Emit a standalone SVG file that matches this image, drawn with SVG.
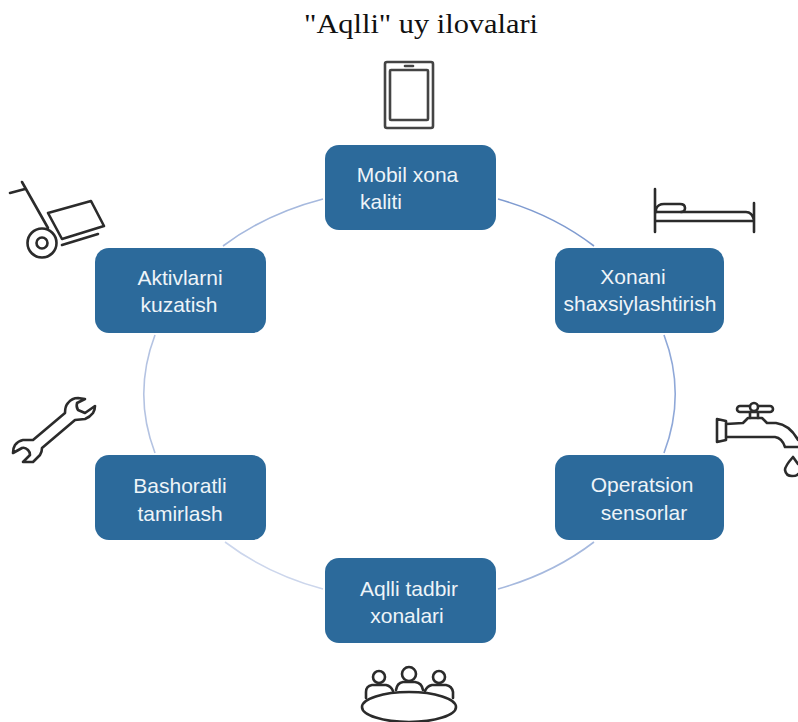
<svg xmlns="http://www.w3.org/2000/svg" width="798" height="722" viewBox="0 0 798 722">
<style>
.n{fill:#2c6a9b;stroke:none}
.t{font-family:"Liberation Sans",Arial,sans-serif;font-size:21px;fill:#eef4f8;text-anchor:middle}
.c{fill:none;stroke-width:1.6}
.i{fill:none;stroke:#2b2b2b;stroke-width:2.6;stroke-linecap:round;stroke-linejoin:round}
.title{font-family:"Liberation Serif","Times New Roman",serif;font-size:27px;fill:#111;text-anchor:middle}
</style>
<rect width="798" height="722" fill="#fff"/>
<text class="title" x="421" y="33" textLength="234" lengthAdjust="spacingAndGlyphs">"Aqlli" uy ilovalari</text>
<g id="connectors">
<path class="c" stroke="#7f9bd0" d="M498 199A265 207 0 0 1 594 246"/>
<path class="c" stroke="#8fa8d8" d="M664 335A265 207 0 0 1 664 453"/>
<path class="c" stroke="#a6b9de" d="M594 542A265 207 0 0 1 498 589"/>
<path class="c" stroke="#ccd6ec" d="M323 589A265 207 0 0 1 225 542"/>
<path class="c" stroke="#b4c3e2" d="M155 453A265 207 0 0 1 155 335"/>
<path class="c" stroke="#a6b9de" d="M223 246A265 207 0 0 1 323 199"/>
</g>
<g id="node-mobil"><rect class="n" x="325" y="145" width="171" height="85" rx="14"/><text class="t" x="407.500" y="182">Mobil xona</text><text class="t" x="381" y="209">kaliti</text></g>
<g id="node-xonani"><rect class="n" x="555" y="248" width="169" height="85" rx="14"/><text class="t" x="633" y="284">Xonani</text><text class="t" x="640" y="311">shaxsiylashtirish</text></g>
<g id="node-operatsion"><rect class="n" x="555" y="455" width="169" height="85" rx="14"/><text class="t" x="642" y="492">Operatsion</text><text class="t" x="644" y="520">sensorlar</text></g>
<g id="node-aqlli"><rect class="n" x="325" y="558" width="171" height="85" rx="14"/><text class="t" x="409" y="596">Aqlli tadbir</text><text class="t" x="407" y="623">xonalari</text></g>
<g id="node-bashoratli"><rect class="n" x="95" y="455" width="171" height="85" rx="14"/><text class="t" x="180" y="493">Bashoratli</text><text class="t" x="180" y="521">tamirlash</text></g>
<g id="node-aktivlarni"><rect class="n" x="95" y="248" width="171" height="85" rx="14"/><text class="t" x="180" y="285">Aktivlarni</text><text class="t" x="179" y="312">kuzatish</text></g>
<g id="icon-phone" class="i" style="stroke:#444">
<rect x="385" y="62" width="48" height="66" rx="2"/>
<rect x="390" y="70" width="38" height="50" rx="1"/>
<path d="M405 66H413"/>
</g>
<g id="icon-bed" class="i">
<path d="M655 189V232M754 203V232M655 221H754M656 212H746Q752 212 754 220"/>
<path d="M656 212V209Q658 204 664 204H680Q685 204 685 208Q685 212 681 212"/>
</g>
<g id="icon-tap" class="i">
<path d="M717 419L726 421V440L717 442ZM726 424L743 423L748 418H762L767 423H776Q790 425 798 440M726 437H775Q782 438 785 447H798"/>
<path d="M750 418V412M758 418V412"/>
<rect x="737" y="406" width="36" height="6" rx="3"/>
<circle cx="754" cy="407" r="4" fill="#fff"/>
<path d="M793 457Q785 466 785 470Q786 476 792 476Q797 476 798 474M793 457L798 464"/>
</g>
<g id="icon-table" class="i">
<ellipse cx="409" cy="707" rx="47" ry="15"/>
<circle cx="379" cy="677" r="6"/><circle cx="409" cy="674" r="7"/><circle cx="439" cy="677" r="6"/>
<path d="M366 698V692Q366 686 372 685H386Q391 686 393 691M425 691Q427 686 432 685H446Q452 686 453 692V698M396 690Q397 683 403 682H415Q422 683 423 690"/>
</g>
<g id="icon-wrench" class="i">
<path d="M65 413Q65 406 68 403Q72 398 78 398L85 399L77 403Q76 407 78 410L85 413L95 406Q95 410 93 413Q90 417 85 419L75 420L42 448Q42 452 40 455L33 462H23L30 455Q30 452 28 450Q25 447 22 448L13 453Q13 448 15 445Q18 441 23 440H33Z"/>
</g>
<g id="icon-cart" class="i">
<path d="M10 193L25 189M22 182L48 228"/>
<circle cx="42" cy="243" r="14.500"/><circle cx="42" cy="243" r="5.500"/>
<path d="M48 213L91 201L104 226L62 239ZM62 245L98 234"/>
</g>
</svg>
